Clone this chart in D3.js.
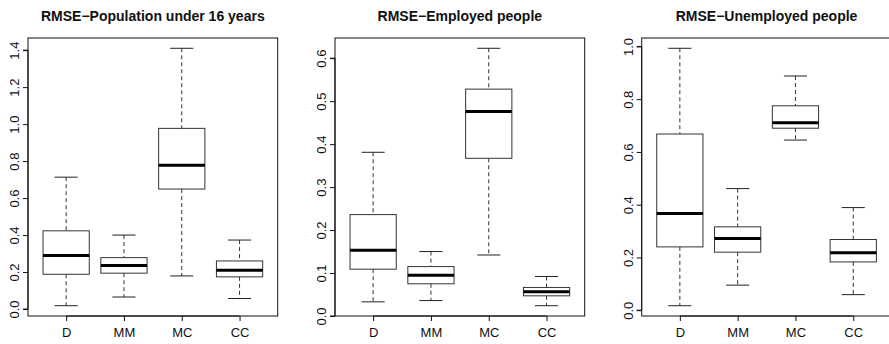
<!DOCTYPE html>
<html><head><meta charset="utf-8">
<script src="https://cdn.jsdelivr.net/npm/d3@7"></script>
<style>body{margin:0;background:#fff}svg{display:block}text{font-family:"Liberation Sans",Arial,sans-serif}</style>
</head><body>
<svg id="c" width="889" height="344"></svg>
<script>
const categories = ["D","MM","MC","CC"];
const titles = ["RMSE\u2212Population under 16 years","RMSE\u2212Employed people","RMSE\u2212Unemployed people"];
// each stat: [lowWhisker, Q1, median, Q3, highWhisker]
const statsPop16 = [[0.018,0.188,0.290,0.423,0.713],[0.065,0.194,0.235,0.278,0.400],[0.179,0.649,0.778,0.977,1.410],[0.057,0.174,0.210,0.260,0.373]];
const statsEmployed = [[0.033,0.109,0.153,0.236,0.381],[0.036,0.075,0.095,0.115,0.150],[0.142,0.367,0.476,0.528,0.623],[0.024,0.047,0.0565,0.0665,0.092]];
const statsUnemployed = [[0.017,0.240,0.367,0.668,0.993],[0.095,0.220,0.272,0.316,0.461],[0.645,0.690,0.711,0.775,0.888],[0.059,0.183,0.218,0.268,0.389]];
const ticksPop16 = [0,0.2,0.4,0.6,0.8,1.0,1.2,1.4];
const ticksEmployed = [0,0.1,0.2,0.3,0.4,0.5,0.6];
const ticksUnemployed = [0,0.2,0.4,0.6,0.8,1.0];

const panels = [
  {title:titles[0], stats:statsPop16, ticks:ticksPop16, left:28},
  {title:titles[1], stats:statsEmployed, ticks:ticksEmployed, left:335},
  {title:titles[2], stats:statsUnemployed, ticks:ticksUnemployed, left:641.7}
];
const svg = d3.select("#c");
const W = 249.7, plotTop = 38, plotBottom = 316;
const fmt = d3.format(".1f");

panels.forEach(p => {
  const g = svg.append("g");
  const mn = d3.min(p.stats, s=>s[0]), mx = d3.max(p.stats, s=>s[4]);
  const ext = (mx-mn)*0.04;
  const y = d3.scaleLinear().domain([mn-ext, mx+ext]).range([plotBottom, plotTop]);
  const x = d3.scaleLinear().domain([0.34, 4.66]).range([p.left, p.left+W]);
  const unit = x(2)-x(1);
  const bw = unit*0.8, cw = bw*0.5;

  g.append("rect").attr("x",p.left).attr("y",plotTop).attr("width",W).attr("height",plotBottom-plotTop)
    .attr("fill","none").attr("stroke","#111").attr("stroke-width",1);

  const ya = d3.axisLeft(y).tickValues(p.ticks).tickFormat(fmt).tickSize(5).tickPadding(0);
  const yg = g.append("g").attr("transform",`translate(${p.left},0)`).call(ya);
  yg.select(".domain").attr("d", `M-5,${y(p.ticks[0])}H0V${y(p.ticks[p.ticks.length-1])}H-5`).attr("stroke","#111");
  yg.selectAll(".tick line").attr("stroke","#111");
  yg.selectAll(".tick text").attr("font-size",13).attr("fill","#111")
    .attr("text-anchor","middle").attr("dy",null)
    .attr("transform","translate(-9,0) rotate(-90)").attr("x",0).attr("y",0);
  yg.attr("font-family",null);

  const xa = d3.axisBottom(x).tickValues([1,2,3,4]).tickFormat(i=>categories[i-1]).tickSize(5).tickPadding(7);
  const xg = g.append("g").attr("transform",`translate(0,${plotBottom})`).call(xa);
  xg.select(".domain").attr("d", `M${x(1)},0H${x(4)}`).attr("stroke","#111");
  xg.selectAll(".tick line").attr("stroke","#111");
  xg.selectAll(".tick text").attr("font-size",13).attr("fill","#111");
  xg.attr("font-family",null);

  p.stats.forEach((s,i) => {
    const cx = x(i+1);
    const bg = g.append("g");
    bg.append("line").attr("x1",cx).attr("x2",cx).attr("y1",y(s[4])).attr("y2",y(s[3]))
      .attr("stroke","#333").attr("stroke-dasharray","4,3");
    bg.append("line").attr("x1",cx).attr("x2",cx).attr("y1",y(s[1])).attr("y2",y(s[0]))
      .attr("stroke","#333").attr("stroke-dasharray","4,3");
    [s[0],s[4]].forEach(v => bg.append("line").attr("x1",cx-cw/2).attr("x2",cx+cw/2)
      .attr("y1",y(v)).attr("y2",y(v)).attr("stroke","#222"));
    bg.append("rect").attr("x",cx-bw/2).attr("width",bw).attr("y",y(s[3])).attr("height",y(s[1])-y(s[3]))
      .attr("fill","none").attr("stroke","#333");
    bg.append("line").attr("x1",cx-bw/2).attr("x2",cx+bw/2).attr("y1",y(s[2])).attr("y2",y(s[2]))
      .attr("stroke","#000").attr("stroke-width",3);
  });

  g.append("text").attr("x",p.left+W/2).attr("y",21).attr("text-anchor","middle")
    .attr("font-size",14).attr("font-weight","bold").attr("fill","#111").text(p.title);
});
</script>
</body></html>
